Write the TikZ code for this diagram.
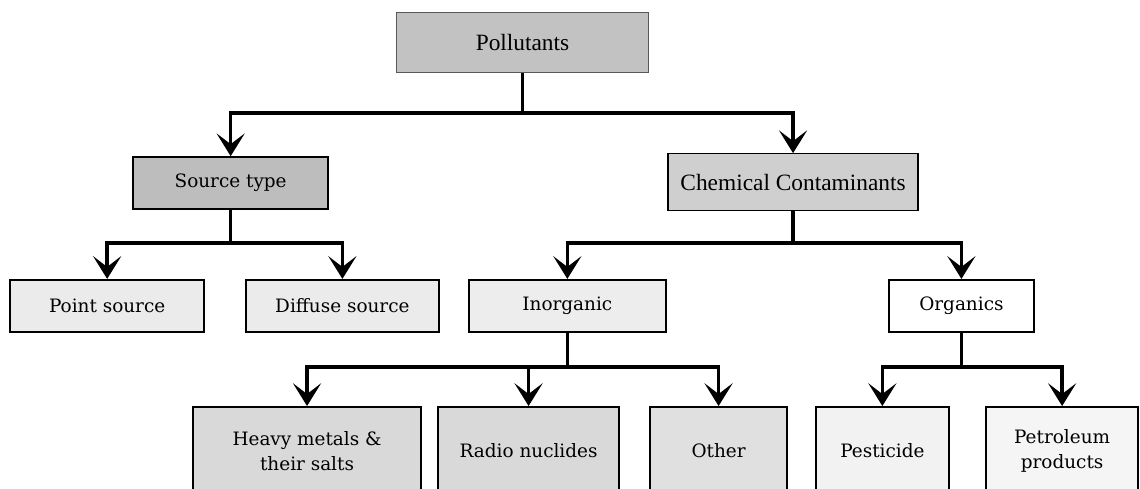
\documentclass[tikz,border=0pt]{standalone}
\usepackage{fontspec}
\setmainfont{Liberation Serif}
\newfontfamily\slabfont{DejaVu Serif}
\usetikzlibrary{arrows.meta}

\begin{document}
\begin{tikzpicture}[
  topbox/.style={draw=black!65,line width=0.7pt,fill=black!24,font=\fontsize{17.5}{20}\selectfont},
  box/.style={draw,line width=1.3pt,inner sep=0pt,font=\slabfont\fontsize{13.8}{19}\selectfont,align=center},
  link/.style={line width=2.5pt},
  arr/.style={link,-{Stealth[length=17pt,width=21pt,inset=8pt]}}
]
\fill[white] (0,0) rectangle (30,12.868);
\useasboundingbox (0,0) rectangle (30,12.868);

% top level
\node[topbox,minimum width=6.61cm,minimum height=1.58cm] (pol) at (13.75,11.74) {Pollutants};

%---------------------------------

\node[box,fill=black!26,minimum width=5.13cm,minimum height=1.37cm] (src) at (6.07,8.05) {Source type};
\node[topbox,draw=black,line width=1pt,fill=black!19,minimum width=6.58cm,minimum height=1.5cm] (chem) at (20.87,8.07) {Chemical Contaminants};

\coordinate (j1) at (13.75,9.89);
\draw[link] (pol) -- (j1);
\draw[arr] (j1) -| (src);
\draw[arr] (j1) -| (chem);

%---------------------------------

\node[box,fill=black!8,minimum width=5.11cm,minimum height=1.37cm] (point) at (2.82,4.82) {Point source};
\node[box,fill=black!8,minimum width=5.08cm,minimum height=1.37cm] (diffuse) at (9.01,4.82) {Diffuse source};
\node[box,fill=black!7,minimum width=5.18cm,minimum height=1.37cm] (inorg) at (14.93,4.82) {Inorganic};
\node[box,fill=white,minimum width=3.82cm,minimum height=1.37cm] (org) at (25.30,4.82) {Organics};

\coordinate (j2) at (6.07,6.47);
\draw[link] (src) -- (j2);
\draw[arr] (j2) -| (point);
\draw[arr] (j2) -| (diffuse);

\coordinate (j3) at (20.87,6.47);
\draw[link] (chem) -- (j3);
\draw[arr] (j3) -| (inorg);
\draw[arr] (j3) -| (org);

%---------------------------------

\node[box,fill=black!15,minimum width=6.0cm,minimum height=2.32cm] (heavy) at (8.08,1.0) {Heavy metals \&\\their salts};
\node[box,fill=black!15,minimum width=4.76cm,minimum height=2.32cm] (radio) at (13.91,1.0) {Radio nuclides};
\node[box,fill=black!12,minimum width=3.61cm,minimum height=2.32cm] (other) at (18.91,1.0) {Other};
\node[box,fill=black!5,minimum width=3.5cm,minimum height=2.32cm] (pest) at (23.22,1.0) {Pesticide};
\node[box,fill=black!4,minimum width=4.0cm,minimum height=2.32cm] (petrol) at (27.95,1.0) {Petroleum\\products};

\coordinate (j4) at (14.93,3.21);
\draw[link] (inorg) -- (j4);
\draw[arr] (j4) -| (heavy);
\draw[arr] (j4) -| (radio);
\draw[arr] (j4) -| (other);

\coordinate (j5) at (25.30,3.21);
\draw[link] (org) -- (j5);
\draw[arr] (j5) -| (pest);
\draw[arr] (j5) -| (petrol);
\end{tikzpicture}
\end{document}
